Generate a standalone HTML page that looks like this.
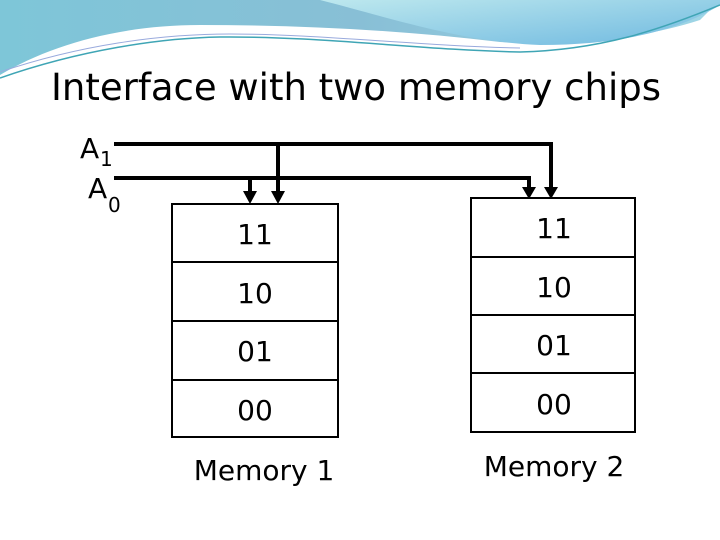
<!DOCTYPE html>
<html><head><meta charset="utf-8"><style>
html,body{margin:0;padding:0;background:#fff;}
svg{display:block;}
text{font-family:"DejaVu Sans","Liberation Sans",sans-serif;fill:#000;}
</style></head><body>
<svg width="720" height="540" viewBox="0 0 720 540" xmlns="http://www.w3.org/2000/svg">
<defs>
<linearGradient id="g1" x1="0" y1="0" x2="1" y2="0">
<stop offset="0" stop-color="#7ec6d8"/><stop offset="0.5" stop-color="#88bfd6"/><stop offset="1" stop-color="#9fd6e6"/>
</linearGradient>
<linearGradient id="g2" x1="0" y1="0" x2="1" y2="1">
<stop offset="0" stop-color="#bde8ee"/><stop offset="1" stop-color="#6fb9e0"/>
</linearGradient>
</defs>
<path d="M0 0 H720 V0 L700 20 C640 40 560 45 500 42 C400 30 300 25 200 25 C120 25 50 45 0 75 Z" fill="url(#g1)"/>
<path d="M320 0 H720 V5 C680 30 620 45 540 45 C460 42 380 15 320 0 Z" fill="url(#g2)"/>
<path d="M0 78 C80 50 160 38 220 37 C320 36 420 50 520 52 C600 50 660 30 720 5" fill="none" stroke="#3fa5b5" stroke-width="1.5"/>
<path d="M0 72 C80 45 160 34 230 34 C320 34 420 46 520 48" fill="none" stroke="#9ad" stroke-width="1"/>
<text x="356" y="100" font-size="37" text-anchor="middle">Interface with two memory chips</text>
<text x="80" y="158" font-size="28">A</text><text x="100" y="166" font-size="20">1</text>
<text x="88" y="198" font-size="28">A</text><text x="108" y="212" font-size="20">0</text>
<g stroke="#000" stroke-width="4" fill="none">
<polyline points="114,144 551,144 551,190"/>
<line x1="278" y1="144" x2="278" y2="195"/>
<polyline points="114,178 529,178 529,190"/>
<line x1="250" y1="178" x2="250" y2="195"/>
</g>
<g fill="#000">
<polygon points="243,191 257,191 250,204"/>
<polygon points="271,191 285,191 278,204"/>
<polygon points="522,187 536,187 529,199"/>
<polygon points="544,187 558,187 551,199"/>
</g>
<g stroke="#000" stroke-width="2" fill="none">
<rect x="172" y="204" width="166" height="233"/>
<line x1="172" y1="262" x2="338" y2="262"/>
<line x1="172" y1="321" x2="338" y2="321"/>
<line x1="172" y1="380" x2="338" y2="380"/>
<rect x="471" y="198" width="164" height="234"/>
<line x1="471" y1="257" x2="635" y2="257"/>
<line x1="471" y1="315" x2="635" y2="315"/>
<line x1="471" y1="373" x2="635" y2="373"/>
</g>
<g font-size="28" text-anchor="middle">
<text x="255" y="244">11</text>
<text x="255" y="303">10</text>
<text x="255" y="361">01</text>
<text x="255" y="420">00</text>
<text x="554" y="238">11</text>
<text x="554" y="297">10</text>
<text x="554" y="355">01</text>
<text x="554" y="414">00</text>
<text x="264" y="480">Memory 1</text>
<text x="554" y="476">Memory 2</text>
</g>
</svg>
</body></html>
